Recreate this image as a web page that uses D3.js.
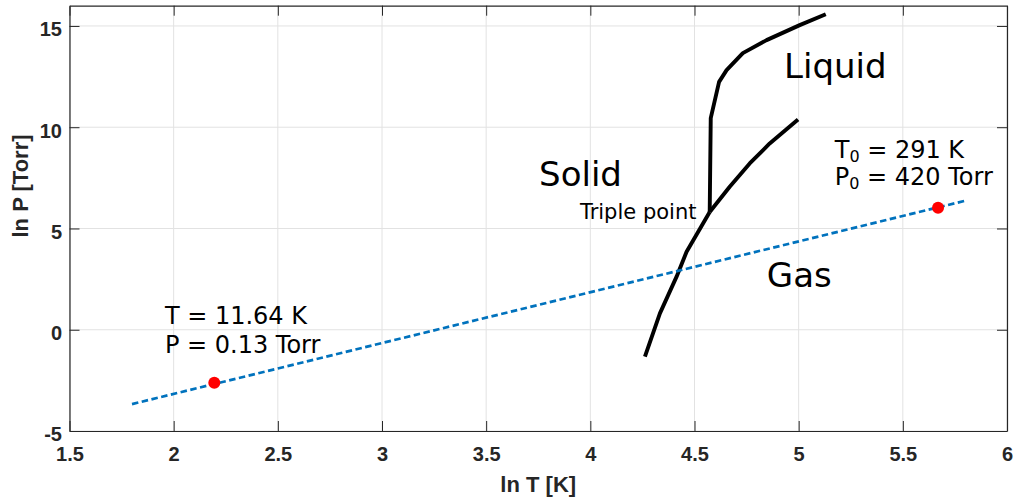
<!DOCTYPE html>
<html>
<head>
<meta charset="utf-8">
<script src="https://cdn.jsdelivr.net/npm/d3@7"></script>
<style>
  body { margin: 0; background: #fff; }
  svg { display: block; }
</style>
</head>
<body>
<svg id="chart" width="1014" height="499"></svg>
<script>
// Axis ticks
const xTicks = [1.5, 2, 2.5, 3, 3.5, 4, 4.5, 5, 5.5, 6];
const yTicks = [-5, 0, 5, 10, 15];

// Phase boundaries (ln T [K], ln P [Torr])
const sublimationLnT = [4.262, 4.334, 4.414, 4.462, 4.573];
const sublimationLnP = [-1.33, 0.81, 2.62, 3.85, 5.81];
const vaporLnT = [4.573, 4.669, 4.765, 4.861, 4.997];
const vaporLnP = [5.81, 7.06, 8.21, 9.20, 10.38];
const meltLnT = [4.573, 4.578, 4.618, 4.654, 4.732, 4.846, 5.005, 5.130];
const meltLnP = [5.81, 10.45, 12.24, 12.82, 13.66, 14.30, 15.04, 15.58];

// Clausius–Clapeyron line and the two marked states
const fitLnT = [1.8, 5.8];
const fitLnP = [-3.67, 6.37];
const markLnT = [2.195, 5.669];
const markLnP = [-2.62, 6.02];

const plotLeft = 69.5, plotRight = 1007, plotTop = 5.7, plotBottom = 431;

const svg = d3.select("#chart");
const x = d3.scaleLinear().domain([1.5, 6]).range([plotLeft, plotRight]);
const y = d3.scaleLinear().domain([-5, 16]).range([plotBottom, plotTop]);

const axisColor = "#262626";
const tickFont = "'Liberation Sans', Arial, Helvetica, sans-serif";
const plainNumber = d => String(d);

// grid
const grid = svg.append("g").attr("stroke", "#e2e2e2").attr("stroke-width", 1);
grid.selectAll("line.gx").data(xTicks).join("line")
  .attr("x1", d => x(d)).attr("x2", d => x(d))
  .attr("y1", plotTop).attr("y2", plotBottom);
grid.selectAll("line.gy").data(yTicks).join("line")
  .attr("x1", plotLeft).attr("x2", plotRight)
  .attr("y1", d => y(d)).attr("y2", d => y(d));

// axes with inward ticks on all four sides
function styleAxis(g) {
  g.select(".domain").attr("stroke", axisColor).attr("stroke-width", 1.2);
  g.selectAll(".tick line").attr("stroke", axisColor).attr("stroke-width", 1);
  g.selectAll(".tick text")
    .attr("fill", axisColor)
    .attr("font-family", tickFont)
    .attr("font-weight", "bold")
    .attr("font-size", 20);
}

svg.append("g").attr("transform", `translate(0,${plotBottom})`)
  .call(d3.axisBottom(x).tickValues(xTicks).tickSizeInner(-10).tickSizeOuter(0)
    .tickPadding(16).tickFormat(plainNumber))
  .call(styleAxis);
svg.append("g").attr("transform", `translate(0,${plotTop})`)
  .call(d3.axisTop(x).tickValues(xTicks).tickSizeInner(-10).tickSizeOuter(0).tickFormat(""))
  .call(styleAxis);
const yAxisG = svg.append("g").attr("transform", `translate(${plotLeft},0)`)
  .call(d3.axisLeft(y).tickValues(yTicks).tickSizeInner(-10).tickSizeOuter(0)
    .tickPadding(7.5).tickFormat(plainNumber))
  .call(styleAxis);
yAxisG.selectAll(".tick text").attr("dy", "0.49em");
svg.append("g").attr("transform", `translate(${plotRight},0)`)
  .call(d3.axisRight(y).tickValues(yTicks).tickSizeInner(-10).tickSizeOuter(0).tickFormat(""))
  .call(styleAxis);

// axis titles
svg.append("text")
  .attr("x", (plotLeft + plotRight) / 2).attr("y", 492)
  .attr("text-anchor", "middle")
  .attr("font-family", tickFont).attr("font-weight", "bold").attr("font-size", 22)
  .attr("fill", axisColor)
  .text("ln T [K]");
svg.append("text")
  .attr("transform", "translate(28,186) rotate(-90)")
  .attr("text-anchor", "middle")
  .attr("font-family", tickFont).attr("font-weight", "bold").attr("font-size", 22)
  .attr("fill", axisColor)
  .text("ln P [Torr]");

// phase boundary curves
const line = d3.line().x(d => x(d[0])).y(d => y(d[1]));
const curves = [
  d3.zip(sublimationLnT, sublimationLnP),
  d3.zip(vaporLnT, vaporLnP),
  d3.zip(meltLnT, meltLnP)
];
svg.append("g").selectAll("path").data(curves).join("path")
  .attr("d", line)
  .attr("fill", "none")
  .attr("stroke", "#000")
  .attr("stroke-width", 3.9)
  .attr("stroke-linejoin", "round");

// dashed fit line
svg.append("path")
  .datum(d3.zip(fitLnT, fitLnP))
  .attr("d", line)
  .attr("fill", "none")
  .attr("stroke", "#0072BD")
  .attr("stroke-width", 2.7)
  .attr("stroke-dasharray", "6.5,3.5");

// marked states
svg.append("g").selectAll("circle").data(d3.zip(markLnT, markLnP)).join("circle")
  .attr("cx", d => x(d[0])).attr("cy", d => y(d[1]))
  .attr("r", 6)
  .attr("fill", "#ff0000");

// region and point labels (anchored in data coordinates)
const textFont = "'DejaVu Sans', Verdana, sans-serif";
const regionLabels = [
  { t: "Liquid", lx: 4.930, ly: 12.41, size: 34 },
  { t: "Solid", lx: 3.754, ly: 7.09, size: 34 },
  { t: "Gas", lx: 4.847, ly: 2.11, size: 34 },
  { t: "Triple point", lx: 3.950, ly: 5.45, size: 21 },
  { t: "T = 11.64 K", lx: 1.958, ly: 0.27, size: 24 },
  { t: "P = 0.13 Torr", lx: 1.958, ly: -1.165, size: 24 }
];
svg.append("g").selectAll("text").data(regionLabels).join("text")
  .attr("x", d => x(d.lx)).attr("y", d => y(d.ly))
  .attr("font-family", textFont)
  .attr("font-size", d => d.size)
  .attr("fill", "#000")
  .text(d => d.t);

// reference state with subscripts
const refLabels = [
  { sym: "T", rest: " = 291 K", lx: 5.173, ly: 8.49 },
  { sym: "P", rest: " = 420 Torr", lx: 5.173, ly: 7.14 }
];
const refText = svg.append("g").selectAll("text").data(refLabels).join("text")
  .attr("x", d => x(d.lx)).attr("y", d => y(d.ly))
  .attr("font-family", textFont)
  .attr("font-size", 24)
  .attr("fill", "#000");
refText.append("tspan").text(d => d.sym);
refText.append("tspan").attr("font-size", 16).attr("dy", 4).text("0");
refText.append("tspan").attr("dy", -4).text(d => d.rest);
</script>
</body>
</html>
